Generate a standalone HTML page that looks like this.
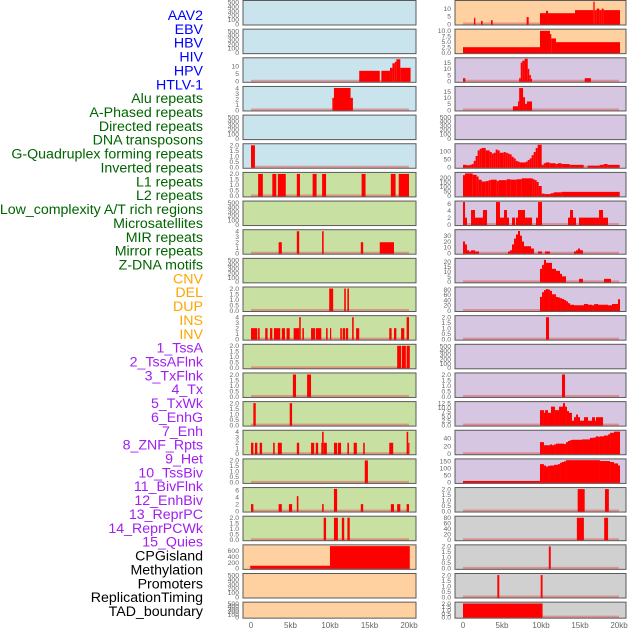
<!DOCTYPE html>
<html><head><meta charset="utf-8">
<style>
html,body{margin:0;padding:0;background:#fff;}
svg{display:block;font-family:"Liberation Sans",sans-serif;}
</style></head>
<body>
<svg id="chart" width="630" height="630" viewBox="0 0 630 630"></svg>
<script>
// ---- data ----
const trackLabels = ["AAV2","EBV","HBV","HIV","HPV","HTLV-1","Alu repeats","A-Phased repeats","Directed repeats","DNA transposons","G-Quadruplex forming repeats","Inverted repeats","L1 repeats","L2 repeats","Low_complexity A/T rich regions","Microsatellites","MIR repeats","Mirror repeats","Z-DNA motifs","CNV","DEL","DUP","INS","INV","1_TssA","2_TssAFlnk","3_TxFlnk","4_Tx","5_TxWk","6_EnhG","7_Enh","8_ZNF_Rpts","9_Het","10_TssBiv","11_BivFlnk","12_EnhBiv","13_ReprPC","14_ReprPCWk","15_Quies","CPGisland","Methylation","Promoters","ReplicationTiming","TAD_boundary"];
const labelGroups = [6,13,5,15,5];
const xTickValues = [0,5,10,15,20];
const xTickLabels = ["0","5kb","10kb","15kb","20kb"];
const E = [0,100,200,300,400,500];
const T2 = [0,0.5,1,1.5,2];
const T4 = [0,1,2,3,4];
const leftYMax = [520,520,15,4.1,520,2.05,2.05,520,4.1,520,2.05,4.1,2.05,2.05,2.05,4.1,2.05,6.5,2.05,770,520,520];
const leftTicks = [E,E,[0,5,10],T4,E,T2,T2,E,T4,E,T2,T4,T2,T2,T2,T4,T2,[0,2,4,6],T2,[0,200,400,600],E,E];
const leftBars = [
 [],[],
 [[13.7,16.3,7],[16.5,17.6,7],[17.6,17.9,9],[17.9,18.2,12],[18.2,18.4,13],[18.4,18.9,14.7],[18.9,20.2,9]],
 [[10.3,10.5,2.2],[10.5,12.6,4],[12.6,12.9,2.2]],
 [],
 [[0,0.5,2]],
 [[0.9,1.5,2],[2.7,3.2,2],[3.4,4.4,2],[5.8,6.2,2],[7.8,8.3,2],[9,9.5,2],[14,14.5,2],[17.7,18.3,2],[18.7,20,2]],
 [],
 [[3.5,3.9,2],[5.8,6.1,4],[9.0,9.2,4],[13.9,14.2,2],[16.3,18.1,2]],
 [],
 [[9.9,10.4,2],[11.8,12,2],[12.2,12.4,2]],
 [[0,0.8,2],[0.9,1.1,2],[1.8,2.1,2],[2.4,2.7,2],[2.9,3.7,2],[3.9,4.3,2],[4.5,4.9,2],[5.4,6.1,2],[6.1,6.3,4],[6.5,6.7,2],[7.6,8.1,2],[8.2,8.9,2],[9.5,9.7,2],[10,10.1,2],[11.3,11.5,2],[11.6,11.9,2],[12,12.3,2],[12.8,13,4],[13.3,13.7,2],[17.5,17.8,2],[18.1,18.4,2],[19,19.4,2],[19.7,20,4]],
 [[18.5,19,2],[19.1,19.6,2],[19.7,20.1,2]],
 [[5.3,5.7,2],[7.1,7.6,2]],
 [[0.3,0.6,2],[4.9,5.2,2]],
 [[0,0.3,2],[0.5,0.8,2],[1.1,1.4,2],[2.8,3.0,2],[3.4,3.9,2],[5.8,6.1,2],[7.6,8.0,2],[8.2,8.5,2],[8.9,9.0,2],[9.0,9.2,4],[9.2,9.6,2],[10.5,10.9,2],[11.0,11.4,2],[12.2,12.4,2],[13,13.4,2],[14.2,14.4,2],[17.5,18,2],[19.7,19.9,4],[19.9,20,2]],
 [[14.4,14.8,2]],
 [[0,0.3,2],[3.5,3.9,2],[4.8,5.2,2],[5.8,6.0,4.3],[9.0,9.2,2],[10.5,10.9,6.4],[13.9,14.2,2],[17.7,18.1,2],[18.5,18.9,2],[19.7,20,2]],
 [[9.2,9.5,2],[10.5,11,2],[11.5,11.8,2],[12.2,12.5,2]],
 [[-0.1,10,90],[10,20.1,760]],
 [],[]
];
const rightYMax = [14.6,10.3,18,18.5,520,140,250,6.5,38.5,22.5,86,2.05,520,2.05,12.8,58,160,2.05,82,2.05,2.05,2.05];
const rightTicks = [[0,5,10],[0,2.5,5,7.5,10],[0,5,10,15],[0,5,10,15],E,[0,50,100],[0,50,100,150,200],[0,2,4,6],[0,10,20,30],[0,5,10,15,20],[0,20,40,60,80],T2,E,T2,[0,2.5,5,7.5,10,12.5],[0,20,40],[0,50,100,150],T2,[0,20,40,60,80],T2,T2,T2];
const rightBars = [
 [[1.41,1.58,4],[2.31,2.52,2],[3.59,3.8,2.5],[8.16,8.42,4.5],[9.87,10.64,7],[10.64,10.9,8.5],[10.9,14.36,7],[14.36,16.71,9],[16.71,16.88,14.5],[16.88,17.14,9],[17.14,17.48,10],[17.48,17.78,9],[17.78,18.03,10],[18.03,20.13,9]],
 [[0,9.87,2.5],[9.87,11.15,10],[11.15,11.32,8.5],[11.32,11.92,6.5],[11.92,20.13,4.8]],
 [[0,0.3,2.5],[7.2,7.4,2.5],[7.4,7.6,15],[7.6,7.9,16.5],[7.9,8.3,18],[8.3,8.5,10],[8.5,8.7,5],[8.7,8.85,2],[15.6,16.4,2.5]],
 [[6.4,7.05,3],[7.05,7.2,7],[7.2,7.7,18],[7.7,7.95,10.5],[7.95,8.2,5],[8.2,8.85,7]],
 [],
 [[0,0.47,15],[0.47,0.81,12],[0.81,1.11,15],[1.11,1.37,20],[1.37,1.62,40],[1.62,1.88,70],[1.88,2.14,105],[2.14,2.39,115],[2.39,2.91,120],[2.91,3.42,105],[3.42,3.68,95],[3.68,3.93,85],[3.93,4.19,90],[4.19,4.44,110],[4.44,4.7,105],[4.7,5.21,90],[5.21,5.47,95],[5.47,5.73,90],[5.73,5.98,85],[5.98,6.24,80],[6.24,6.5,65],[6.5,6.75,55],[6.75,7.0,40],[7.0,7.26,35],[7.26,8.03,30],[8.03,8.29,35],[8.29,8.55,45],[8.55,8.8,55],[8.8,9.06,75],[9.06,9.32,95],[9.32,9.57,120],[9.57,10.09,140],[10.09,10.34,15],[10.34,10.6,25],[10.6,11.11,30],[11.11,11.88,25],[11.88,12.14,20],[12.14,12.65,25],[12.65,13.68,20],[13.68,15.47,15],[15.98,17.52,10],[17.52,18.03,15],[18.03,18.55,20],[18.55,20.09,15]],
 [[0,0.26,230],[0.26,1.24,250],[1.24,1.75,235],[1.75,2.0,215],[2.0,2.39,180],[2.39,2.91,160],[2.91,3.29,165],[3.29,3.55,175],[3.55,4.32,180],[4.32,4.57,165],[4.57,5.6,175],[5.6,6.11,185],[6.11,6.88,180],[6.88,7.52,185],[7.52,8.93,195],[8.93,9.19,185],[9.19,9.44,175],[9.44,9.7,155],[9.7,10.09,110],[10.09,10.47,25],[10.47,11.24,20],[11.24,11.62,30],[11.62,12.65,40],[12.65,20.09,45]],
 [[0,0.26,6.5],[0.26,0.51,2],[1.03,1.54,4.2],[1.54,2.56,2],[2.56,3.08,4.2],[4.23,4.74,6.5],[4.74,5.26,2],[5.26,5.64,4.2],[5.64,5.9,2],[6.28,6.67,2],[6.79,7.05,2],[7.05,7.95,4.2],[7.95,8.85,2],[9.36,9.62,2],[9.62,10.13,6.5],[13.46,13.72,2],[13.72,14.1,4.2],[14.1,14.49,2],[14.87,17.44,2],[17.44,17.95,4.2],[17.95,18.59,2]],
 [[0,0.26,20],[0.26,0.51,15],[0.51,0.77,5],[0.77,1.03,3],[1.03,1.54,5],[1.54,2.05,3],[5.77,6.03,3],[6.03,6.28,5],[6.28,6.54,15],[6.54,6.79,25],[6.79,7.05,32],[7.05,7.31,38],[7.31,7.56,30],[7.56,7.82,20],[7.82,8.72,12],[8.72,9.1,8],[9.62,10.13,3],[10.51,11.15,3],[14.23,14.49,3],[14.49,14.74,5],[14.74,15.0,8],[15.0,15.38,5]],
 [[9.87,10.13,13],[10.13,10.38,17],[10.38,10.64,22],[10.64,11.41,19],[11.41,11.92,13],[11.92,12.44,11],[12.44,12.69,8],[12.69,13.21,5.5],[14.87,15.38,3],[18.08,18.97,3]],
 [[9.87,10.13,52],[10.13,10.38,70],[10.38,10.64,78],[10.64,10.9,82],[10.9,11.15,80],[11.15,11.41,75],[11.41,11.92,62],[11.92,12.18,52],[12.18,12.44,50],[12.44,12.69,47],[12.69,12.95,44],[12.95,13.21,40],[13.21,13.46,35],[13.46,13.72,28],[13.72,14.23,22],[14.23,15.51,20],[15.51,16.03,25],[16.03,16.54,22],[16.54,16.79,20],[16.79,17.05,24],[17.05,17.31,25],[17.31,18.59,22],[18.59,19.1,20],[19.1,19.87,25],[19.87,20.13,43]],
 [[10.64,11.03,2]],
 [],
 [[12.69,13.08,2]],
 [[9.87,10.38,8.5],[10.38,10.51,7],[10.51,10.9,8.5],[10.9,11.28,7],[11.28,11.79,10.5],[11.79,12.31,8.5],[12.31,12.82,10.5],[12.82,13.08,12.5],[13.08,13.33,10.5],[13.33,13.59,8],[13.59,13.97,7],[13.97,14.23,2.5],[14.23,14.49,4.5],[14.49,14.74,6],[14.74,15.0,4.5],[15.0,15.51,2.5],[15.51,16.03,4.5],[16.03,16.54,2.5],[16.54,16.92,4.5],[16.92,17.05,2.5],[17.05,17.95,4.5]],
 [[9.87,10.38,30],[10.38,11.15,22],[11.15,11.41,24],[11.41,11.67,22],[11.67,11.92,24],[11.92,12.95,26],[12.95,13.21,25],[13.21,13.46,30],[13.46,13.72,33],[13.72,13.97,35],[13.97,15.26,36],[15.26,16.28,37],[16.28,16.79,41],[16.79,17.05,42],[17.05,17.31,45],[17.31,17.56,44],[17.56,18.08,45],[18.08,18.59,47],[18.59,18.85,50],[18.85,19.36,54],[19.36,20.13,57]],
 [[0,9.87,10],[9.87,10.38,130],[10.38,10.64,120],[10.64,10.9,112],[10.9,11.15,118],[11.15,11.67,120],[11.67,12.18,125],[12.18,12.44,130],[12.44,12.69,140],[12.69,12.95,145],[12.95,13.21,150],[13.21,17.56,158],[17.56,18.85,152],[18.85,19.36,145],[19.36,19.87,135],[19.87,20.13,120]],
 [[14.7,15.6,2],[18.2,18.7,2]],
 [[14.6,15.5,80],[18.1,18.6,80]],
 [[11.0,11.25,2]],
 [[4.4,4.65,2],[9.96,10.2,2]],
 [[0,10.2,2]]
];
const leftBg = ["#c9e4ec","#c9e4ec","#c9e4ec","#c9e4ec","#c9e4ec","#c9e4ec","#c8e0a2","#c8e0a2","#c8e0a2","#c8e0a2","#c8e0a2","#c8e0a2","#c8e0a2","#c8e0a2","#c8e0a2","#c8e0a2","#c8e0a2","#c8e0a2","#c8e0a2","#ffd1a0","#ffd1a0","#ffd1a0"];
const rightBg = ["#ffd1a0","#ffd1a0","#d6c6e1","#d6c6e1","#d6c6e1","#d6c6e1","#d6c6e1","#d6c6e1","#d6c6e1","#d6c6e1","#d6c6e1","#d6c6e1","#d6c6e1","#d6c6e1","#d6c6e1","#d6c6e1","#d6c6e1","#d0d0d0","#d0d0d0","#d0d0d0","#d0d0d0","#d0d0d0"];

// ---- rendering ----
const NS = "http://www.w3.org/2000/svg";
const svg = document.getElementById("chart");
function mk(tag, attrs, parent){
  const e = document.createElementNS(NS, tag);
  for (const k in attrs) e.setAttribute(k, attrs[k]);
  (parent||svg).appendChild(e);
  return e;
}
const groupColors = ["#0000ff","#006400","#ffa500","#a020f0","#000000"];
let li = 0;
labelGroups.forEach((n, g) => {
  for (let k = 0; k < n; k++, li++) {
    const t = mk("text", {x: 203, y: 20 + li*13.86, "text-anchor": "end", "font-size": "14.2", fill: groupColors[g]});
    
    
    t.textContent = trackLabels[li];
  }
});

const cols = [
  {x0: 243, x1: 416, zero: 251, kb: 7.9, tickX: 239, ymax: leftYMax, ticks: leftTicks, bars: leftBars, bg: leftBg, side: "left"},
  {x0: 455, x1: 626, zero: 463, kb: 7.8, tickX: 451, ymax: rightYMax, ticks: rightTicks, bars: rightBars, bg: rightBg, side: "right"}
];
function fmt(v, dec){ return dec ? v.toFixed(1) : String(v); }
cols.forEach(c => {
  const xs = kb => c.zero + kb*c.kb;
  for (let i = 0; i < 22; i++) {
    const top = 0.5 + i*28.65;
    const h = i === 21 ? 16 : 24.5;
    const bottom = top + h;
    const ymax = c.ymax[i];
    const ys = v => (bottom - 1) - v/ymax*(h - 2);
    const g = mk("g", {});
    
    
    const bgRect = mk("rect", {x: c.x0, y: top, width: c.x1 - c.x0, height: h, fill: c.bg[i]}, g);
    
    
    const bars = c.bars[i];
    if (bars.length) {
      const base = mk("rect", {x: xs(0), y: ys(0) - 1.5, width: xs(20) - xs(0), height: 2.5, fill: "#e06060", opacity: 0.55}, g);
      
      
    }
    bars.forEach(b => {
      const x1 = Math.max(xs(b[0]), c.x0 + 1), x2 = Math.min(xs(b[1]), c.x1 - 1);
      const yt = Math.max(ys(b[2]), top + 0.5);
      const r = mk("rect", {x: x1, y: yt, width: Math.max(x2 - x1, 1.2), height: ys(0) + 0.5 - yt, fill: "#ff0000"}, g);
      
      
    });
    const border = mk("rect", {x: c.x0, y: top, width: c.x1 - c.x0, height: h, fill: "none", stroke: "#5a5a5a", "stroke-width": 1}, g);
    
    
    const tk = c.ticks[i];
    const dec = tk.some(v => v % 1 !== 0);
    tk.forEach(v => {
      const t = mk("text", {x: c.tickX, y: ys(v) + 2.3, "text-anchor": "end", "font-size": "6.8", fill: "#666"}, g);
      
      
      t.textContent = fmt(v, dec);
    });
  }
  xTickValues.forEach((v, j) => {
    const t = mk("text", {x: xs(v), y: 628, "text-anchor": "middle", "font-size": "8", fill: "#666"});
    
    
    t.textContent = xTickLabels[j];
  });
});
</script>
</body></html>
